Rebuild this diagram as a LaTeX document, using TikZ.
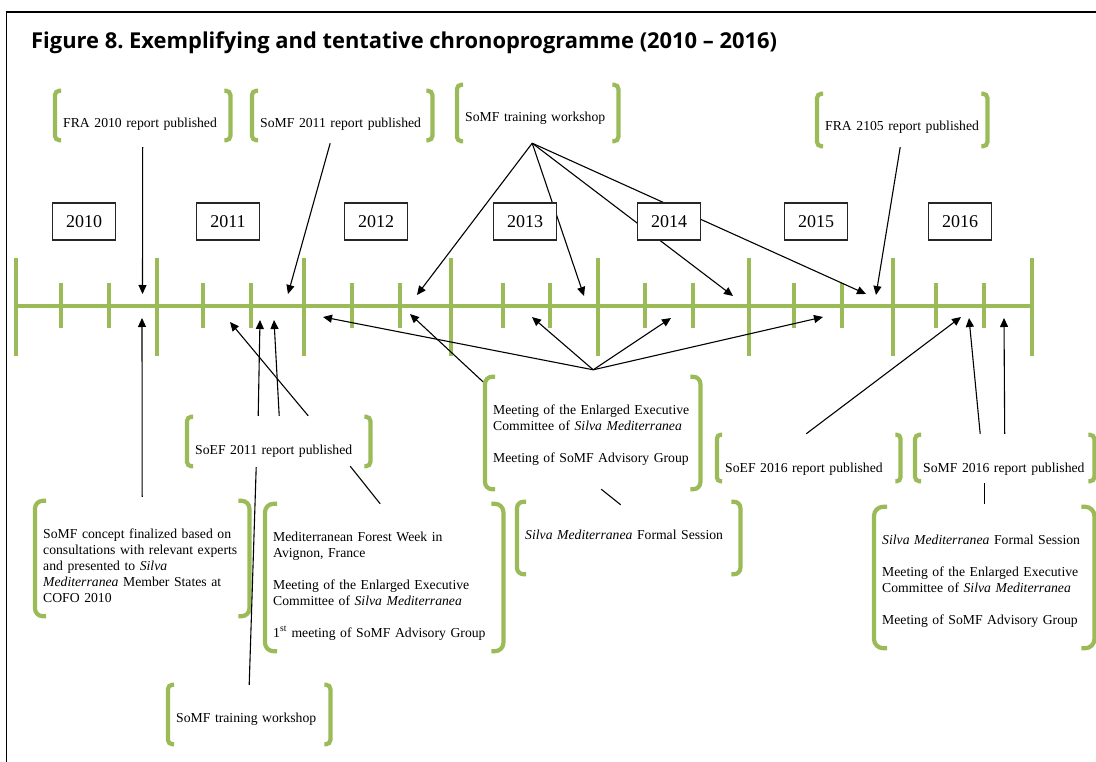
\documentclass[tikz,border=0pt]{standalone}
\usepackage{fontspec}
\setmainfont{Liberation Serif}
\newfontfamily\headfont{Open Sans}
\usepackage{xcolor}
\usepackage{tikz}
\usetikzlibrary{arrows.meta}
\definecolor{brkgreen}{HTML}{9BBB59}
\NewDocumentCommand{\evfont}{}{\fontsize{13.7}{16}\selectfont}
\NewDocumentCommand{\brackets}{O{6}m}{%
  \draw [brk, rounded corners={0.7*#1pt}] ([xshift=#1pt]#2.north west) -- (#2.north west)
    -- (#2.south west) -- ([xshift=#1pt]#2.south west);
  \draw [brk, rounded corners={0.7*#1pt}] ([xshift=-#1pt]#2.north east) -- (#2.north east)
    -- (#2.south east) -- ([xshift=-#1pt]#2.south east);}

\begin{document}
\begin{tikzpicture}[x=1pt, y=-1pt,
    brk/.style={draw=brkgreen, line width=4.2pt},
    axis/.style={draw=brkgreen, line width=4pt},
    event/.style 2 args={anchor=base west, text width=#1pt, text height=37pt, text depth=#2pt,
      inner xsep=8pt, inner ysep=0pt, align=left, font=\evfont},
    yearbox/.style={draw=black!85, fill=white, line width=1.1pt, minimum width=63pt,
      minimum height=37pt, inner sep=0pt, font=\fontsize{18}{20}\selectfont},
    link/.style={draw, line width=1.1pt},
    arrow/.style={link, ->},
    >={Triangle[length=9pt, width=8pt]}]
		\useasboundingbox (0,0) rectangle (1096,762);
		\draw [line width=1.2pt] (6.5,762) -- (6.5,12) -- (1096,12);
		\path (31,49) node [anchor=base west, inner sep=0pt, font=\headfont\bfseries\fontsize{21.9}{26}\selectfont] (title)
			{Figure 8.\ Exemplifying and tentative chronoprogramme (2010 – 2016)};

		% time axis
		\draw [axis] (16,306) -- (1032,306);
		\foreach \x in {16,157,304,451,598,749,893,1032}
			\draw [axis] (\x,258) -- (\x,356);
		\foreach \x in {61,109,203,251,352,400,503,550,645,693,794,842,936,984}
			\draw [axis] (\x,283) -- (\x,328);
		\foreach \n/\x/\y in {a1/142.5/294, a2/288/294, a3/417/295, a4/584/296, a5/733/296,
				a6/866/294, a7/876/295, b1/142/318, b2/230/322, b3/260/320, b4/274/320,
				b5/323/317, b6/410/314, b7/532/317, b8/671/318, b9/823/317, b10/961/317,
				b11/969/318, b12/1004/318}
			\path (\x,\y) coordinate (\n);

		% events above
		\path (55,128) node [event={159}{12}] (fra10) {FRA 2010 report published};
		\path (252,128) node [event={164}{12}] (somf11) {SoMF 2011 report published};
		\path (457,122) node [event={145}{19}] (train13) {SoMF training workshop};
		\path (817,131) node [event={154}{15}] (fra15) {FRA 2105 report published};

		% events below
		\path (35,538) node [event={198}{78}] (concept) {SoMF concept finalized based on\\
			consultations with relevant experts\\ and presented to \textit{Silva}\\
			\textit{Mediterranea} Member States at\\ COFO 2010};
		\path (187,454) node [event={167}{12}] (soef11) {SoEF 2011 report published};
		\path (265,541) node [event={222}{110}] (forest) {Mediterranean Forest Week in\\
			Avignon, France\\[16pt] Meeting of the Enlarged Executive\\
			Committee of \textit{Silva Mediterranea}\\[16pt] 1\textsuperscript{st} meeting of SoMF Advisory Group};
		\path (168,722) node [event={146}{22}] (trainb) {SoMF training workshop};
		\path (485,414) node [event={199}{75}] (exec13) {Meeting of the Enlarged Executive\\
			Committee of \textit{Silva Mediterranea}\\[16pt] Meeting of SoMF Advisory Group};
		\path (517,539) node [event={207}{35}] (formal13) {\textit{Silva Mediterranea} Formal Session};
		\path (717,472) node [event={167}{9}] (soef16) {SoEF 2016 report published};
		\path (915,472) node [event={163}{9}] (somf16) {SoMF 2016 report published};
		\path (874,544) node [event={204}{104}] (exec16) {\textit{Silva Mediterranea} Formal Session\\[16pt]
			Meeting of the Enlarged Executive\\ Committee of \textit{Silva Mediterranea}\\[16pt]
			Meeting of SoMF Advisory Group};

		\foreach \b/\e in {fra10/6, somf11/6, train13/6, fra15/6, soef11/6, trainb/6, soef16/5,
				somf16/6, formal13/9, concept/11, exec13/10, forest/12, exec16/13}
			\brackets[\e]{\b};

		% links
		\path (fra10.south) ++(0,7) edge [arrow] (a1);
		\path (somf11.south) ++(-12,3) edge [arrow] (a2);
		\path (train13.south) ++(-5.5,2) edge [arrow] (a3) edge [arrow] (a4)
			edge [arrow] (a5) edge [arrow] (a6);
		\path (fra15.south) ++(-2,1) edge [arrow] (a7);
		\path (concept.north) ++(0,-4) edge [arrow] (b1);
		\path (soef11.north) ++(-20.5,-1) edge [arrow] (b3);
		\path (soef11.north) ++(0.5,-1) edge [arrow] (b4);
		\path (soef11.north) ++(29.5,-1) edge [arrow] (b2);
		\path (exec13.north) ++(0.5,-7) edge [arrow] (b5) edge [arrow] (b7)
			edge [arrow] (b8) edge [arrow] (b9);
		\path (exec13.north west) ++(-2,5) edge [arrow] (b6);
		\path (soef16.north) ++(-2.5,-1) edge [arrow] (b10);
		\path (somf16.north) ++(-24.5,-1) edge [arrow] (b11);
		\path (somf16.north) ++(0,-1) edge [arrow] (b12);
		\path (soef11.south) ++(-22.5,1) edge [link] (trainb.north);
		\path (soef11.south) ++(71.5,0) edge [link] ([xshift=-4pt]forest.north);
		\path (exec13.south) ++(8.5,0) edge [link] ([xshift=-8pt, yshift=-3pt]formal13.north);
		\path (somf16.south) ++(-20.5,2) edge [link] ([yshift=3pt]exec16.north);

		% years
		\foreach \yr/\x in {2010/84, 2011/228, 2012/376, 2013/525, 2014/669, 2015/816, 2016/960}
			\path (\x,221.5) node [yearbox] (y\yr) {\yr};
\end{tikzpicture}
\end{document}
